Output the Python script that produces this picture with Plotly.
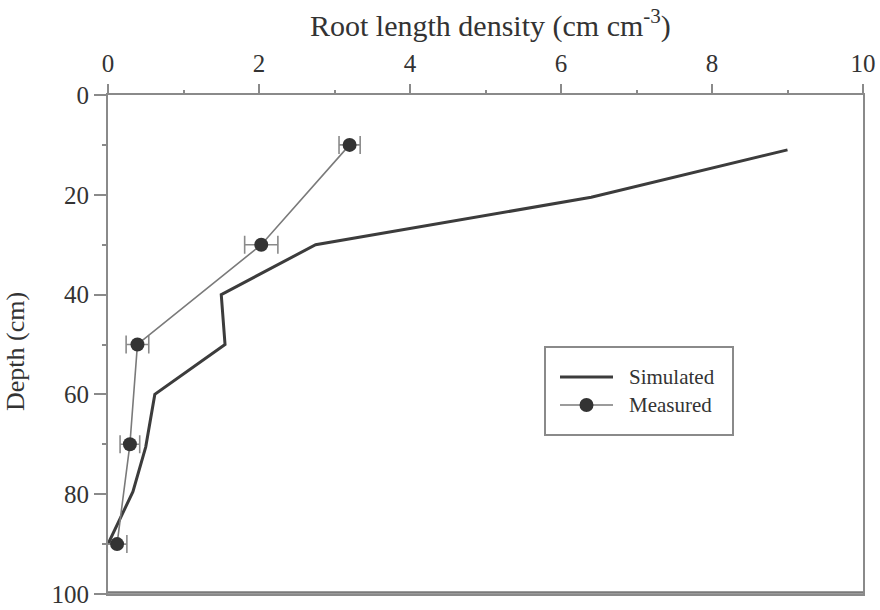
import plotly.graph_objects as go

# Simulated root length density profile
sim_rld = [9.0, 6.4, 2.75, 1.5, 1.55, 0.62, 0.5, 0.33, 0.0]
sim_depth = [11, 20.5, 30, 40, 50, 60, 70.5, 79.5, 90]

# Measured root length density with horizontal error (std. error)
meas_rld = [3.2, 2.03, 0.39, 0.29, 0.12]
meas_depth = [10, 30, 50, 70, 90]
meas_err = [0.14, 0.22, 0.15, 0.13, 0.13]

x_ticks = [0, 2, 4, 6, 8, 10]
y_ticks = [0, 20, 40, 60, 80, 100]

SERIF = "Liberation Serif, Times New Roman, serif"
INK = "#333333"
AXIS = "#8a8a8a"
SIM_COLOR = "#3c3c3c"
MEAS_LINE = "#7a7a7a"
MEAS_MARK = "#333333"

# plot area in pixels
W, H = 880, 610
L, R, T, B = 108, 17, 95, 16
PW, PH = W - L - R, H - T - B


def px(xp):
    return (xp - L) / PW


def py(yp):
    return 1 - (yp - T) / PH


fig = go.Figure()

fig.add_trace(go.Scatter(
    x=sim_rld, y=sim_depth, mode="lines", name="Simulated",
    line=dict(color=SIM_COLOR, width=3), showlegend=False,
))

fig.add_trace(go.Scatter(
    x=meas_rld, y=meas_depth, mode="lines+markers", name="Measured",
    line=dict(color=MEAS_LINE, width=1.6),
    marker=dict(color=MEAS_MARK, size=14),
    error_x=dict(type="data", array=meas_err, visible=True,
                 color="#8a8a8a", thickness=1.6, width=9),
    showlegend=False,
))

# legend box drawn as shapes + text
leg_x0, leg_x1, leg_y0, leg_y1 = 545, 733, 347, 435
row_sim, row_meas = 377, 405
samp_x0, samp_x1, text_x = 560, 613, 627
shapes = [
    # bottom frame edge
    dict(type="line", xref="x", yref="y", x0=0, x1=10, y0=99.7, y1=99.7,
         line=dict(color="#7a7a7a", width=2.5), layer="above"),
    dict(type="rect", xref="paper", yref="paper",
         x0=px(leg_x0), x1=px(leg_x1), y0=py(leg_y1), y1=py(leg_y0),
         line=dict(color=AXIS, width=2), fillcolor="white", layer="above"),
    dict(type="line", xref="paper", yref="paper",
         x0=px(samp_x0), x1=px(samp_x1), y0=py(row_sim), y1=py(row_sim),
         line=dict(color=SIM_COLOR, width=3), layer="above"),
    dict(type="line", xref="paper", yref="paper",
         x0=px(samp_x0), x1=px(samp_x1), y0=py(row_meas), y1=py(row_meas),
         line=dict(color=MEAS_LINE, width=1.6), layer="above"),
    dict(type="circle", xref="paper", yref="paper",
         x0=px((samp_x0 + samp_x1) / 2 - 7), x1=px((samp_x0 + samp_x1) / 2 + 7),
         y0=py(row_meas + 7), y1=py(row_meas - 7),
         line=dict(color=MEAS_MARK, width=0), fillcolor=MEAS_MARK, layer="above"),
]

fig.update_layout(
    width=W, height=H, autosize=False,
    margin=dict(l=L, r=R, t=T, b=B),
    paper_bgcolor="white", plot_bgcolor="white",
    font=dict(family=SERIF, color=INK, size=25),
    showlegend=False,
    shapes=shapes,
    xaxis=dict(
        side="top", range=[0, 10], tickvals=x_ticks,
        ticks="outside", ticklen=9, tickwidth=1.5, tickcolor=AXIS,
        minor=dict(dtick=1, ticks="outside", ticklen=3, tickcolor=AXIS),
        showline=True, linecolor=AXIS, linewidth=2, mirror=True,
        showgrid=False, zeroline=False, automargin=False,
        ticklabeloverflow="allow", ticklabelstandoff=2,
        tickfont=dict(family=SERIF, size=25, color=INK),
    ),
    yaxis=dict(
        range=[100, 0], tickvals=y_ticks,
        ticks="outside", ticklen=12, tickwidth=1.5, tickcolor=AXIS,
        minor=dict(dtick=10, ticks="outside", ticklen=4, tickcolor=AXIS),
        showline=True, linecolor=AXIS, linewidth=2, mirror=True,
        showgrid=False, zeroline=False, automargin=False,
        ticklabeloverflow="allow",
        tickfont=dict(family=SERIF, size=25, color=INK),
    ),
    annotations=[
        dict(text="Root length density (cm cm<sup>-3</sup>)",
             xref="paper", yref="paper", x=px(491), y=py(24),
             xanchor="center", yanchor="middle", showarrow=False,
             font=dict(family=SERIF, size=30, color=INK)),
        dict(text="Depth (cm)", textangle=-90,
             xref="paper", yref="paper", x=px(15), y=py(352),
             xanchor="center", yanchor="middle", showarrow=False,
             font=dict(family=SERIF, size=26, color=INK)),
        dict(text="Simulated", xref="paper", yref="paper",
             x=px(text_x), y=py(row_sim), xanchor="left", yanchor="middle",
             showarrow=False, font=dict(family=SERIF, size=21, color=INK)),
        dict(text="Measured", xref="paper", yref="paper",
             x=px(text_x), y=py(row_meas), xanchor="left", yanchor="middle",
             showarrow=False, font=dict(family=SERIF, size=21, color=INK)),
    ],
)

fig.write_html("out.html")
